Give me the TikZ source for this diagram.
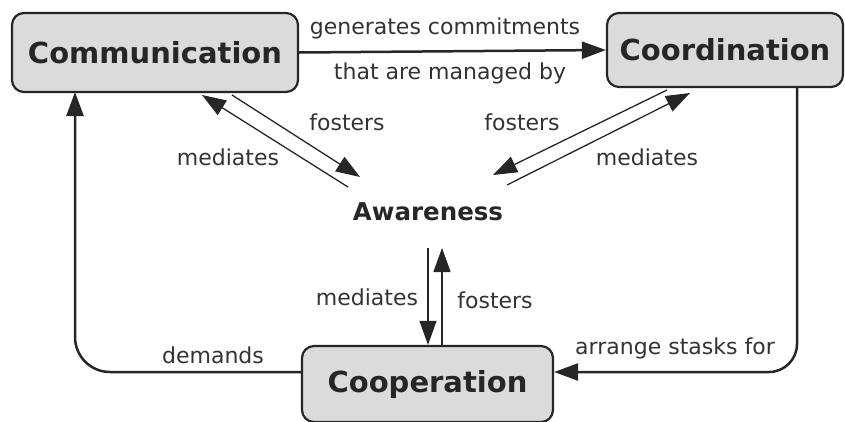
\documentclass[tikz,border=0pt]{standalone}
\usepackage{fontspec}
\setmainfont{DejaVu Sans}
\usetikzlibrary{arrows.meta}

\begin{document}
\begin{tikzpicture}[x=1pt, y=-1pt,
    concept/.style={draw=black!85, line width=2.2pt, fill=black!14, rounded corners=12pt,
      inner sep=0pt, font=\fontsize{29}{35}\selectfont\bfseries, text=black!85},
    link/.style={draw=black!85, line width=2.5pt, -{Triangle[length=24pt,width=17pt]}},
    thinlink/.style={draw=black!85, line width=1.3pt, -{Triangle[length=24pt,width=17pt]}},
    lbl/.style={font=\fontsize{22}{26}\selectfont, text=black!80, inner sep=0pt}]
    \useasboundingbox (0,0) rectangle (845,421);

    \node[concept, minimum width=286pt, minimum height=79pt] (comm) at (155,52.5) {Communication};
    \node[concept, minimum width=236pt, minimum height=74pt] (coord) at (725,50) {Coordination};
    \node[concept, minimum width=251pt, minimum height=76pt] (coop) at (427.5,384) {Cooperation};
    \node[font=\fontsize{24.5}{29}\selectfont\bfseries, text=black!85] (aware) at (428,212) {Awareness};

    % communication -> coordination
    \draw[link] (comm.east) -- (coord.west);
    \node[lbl] (gen) at (445,28) {generates commitments};
    \node[lbl] (man) at (450,73) {that are managed by};

    % communication <-> awareness
    \coordinate (cm1) at (348,187);
    \coordinate (cm2) at (202,95);
    \coordinate (cf1) at (232,95);
    \coordinate (cf2) at (360,177);
    \draw[thinlink] (cm1) -- (cm2);
    \draw[thinlink] (cf1) -- (cf2);
    \node[lbl] (fos1) at (347,122) {fosters};
    \node[lbl] (med1) at (228,157) {mediates};

    % coordination <-> awareness
    \coordinate (df1) at (667,90);
    \coordinate (df2) at (493,175);
    \coordinate (dm1) at (507,185);
    \coordinate (dm2) at (690,93);
    \draw[thinlink] (df1) -- (df2);
    \draw[thinlink] (dm1) -- (dm2);
    \node[lbl] (fos2) at (522,122) {fosters};
    \node[lbl] (med2) at (647,157) {mediates};

    % awareness <-> cooperation
    \coordinate (vm) at (428,248);
    \coordinate (vf) at (442,248);
    \draw[thinlink] (vm) -- (vm |- coop.north);
    \draw[thinlink] (vf |- coop.north) -- (vf);
    \node[lbl] (med3) at (367,297) {mediates};
    \node[lbl] (fos3) at (495,300) {fosters};

    % coordination -> cooperation
    \draw[link, rounded corners=28pt] (797,87) -- (797,372) -- (coop.east |- 0,372);
    \node[lbl] (arr) at (675,348) {arrange stasks for};

    % cooperation -> communication
    \draw[link, rounded corners=35pt] (coop.west |- 0,372) -- (75,372) -- (75,92);
    \node[lbl] (dem) at (213,355) {demands};
\end{tikzpicture}
\end{document}
